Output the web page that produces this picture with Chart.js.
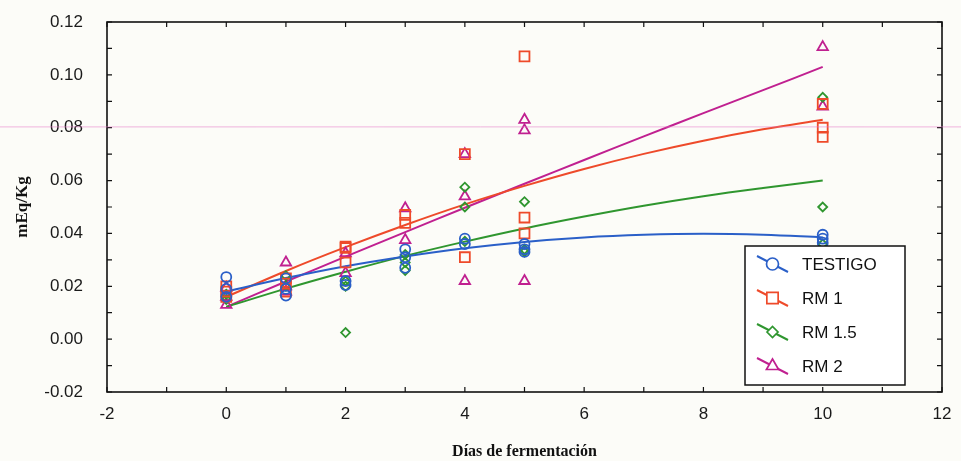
<!DOCTYPE html>
<html>
<head>
<meta charset="utf-8">
<script src="https://cdn.jsdelivr.net/npm/chart.js@4.4.1/dist/chart.umd.min.js"></script>
<style>
  html, body { margin: 0; padding: 0; background: #fcfcf8; }
</style>
</head>
<body>
<canvas id="grafico" width="961" height="461"></canvas>
<script>
// ejes
const xTicks = [-2, 0, 2, 4, 6, 8, 10, 12];
const yTicks = [-0.02, 0, 0.02, 0.04, 0.06, 0.08, 0.10, 0.12];
const series = ['TESTIGO', 'RM 1', 'RM 1.5', 'RM 2'];

// observaciones por tratamiento (dia, mEq/Kg)
const diasTestigo = [0, 0, 0, 1, 1, 1, 2, 2, 3, 3, 3, 4, 4, 5, 5, 5, 10, 10, 10];
const valTestigo  = [0.0235, 0.019, 0.016, 0.023, 0.019, 0.0165, 0.022, 0.0205, 0.034, 0.031, 0.027, 0.038, 0.036, 0.036, 0.034, 0.033, 0.0395, 0.038, 0.0365];

const diasRM1 = [0, 0, 0, 1, 1, 1, 2, 2, 2, 3, 3, 4, 4, 5, 5, 5, 10, 10, 10];
const valRM1  = [0.020, 0.018, 0.016, 0.023, 0.021, 0.018, 0.035, 0.0345, 0.029, 0.047, 0.044, 0.070, 0.031, 0.107, 0.046, 0.040, 0.089, 0.080, 0.0765];

const diasRM15 = [0, 0, 1, 1, 2, 2, 2, 3, 3, 3, 4, 4, 4, 5, 5, 5, 10, 10, 10];
const valRM15  = [0.015, 0.017, 0.024, 0.020, 0.022, 0.020, 0.0025, 0.032, 0.029, 0.026, 0.0575, 0.050, 0.037, 0.052, 0.034, 0.033, 0.0915, 0.050, 0.036];

const diasRM2 = [0, 0, 0, 1, 1, 1, 2, 2, 3, 3, 4, 4, 4, 5, 5, 5, 10, 10];
const valRM2  = [0.0195, 0.016, 0.013, 0.029, 0.020, 0.018, 0.0325, 0.025, 0.0495, 0.0375, 0.070, 0.054, 0.022, 0.083, 0.079, 0.022, 0.1105, 0.088];

// curvas de ajuste
const diasCurva    = [0, 1, 2, 3, 4, 5, 6, 7, 8, 9, 10];
const curvaTestigo = [0.0180, 0.0231, 0.0276, 0.0313, 0.0344, 0.0368, 0.0385, 0.0395, 0.0399, 0.0395, 0.0385];
const curvaRM1     = [0.0160, 0.0258, 0.0348, 0.0432, 0.0510, 0.0580, 0.0644, 0.0701, 0.0751, 0.0794, 0.0830];
const curvaRM15    = [0.0122, 0.0191, 0.0255, 0.0315, 0.0369, 0.0419, 0.0464, 0.0505, 0.0541, 0.0572, 0.0600];
const curvaRM2     = [0.0122, 0.0218, 0.0312, 0.0405, 0.0497, 0.0588, 0.0678, 0.0767, 0.0855, 0.0942, 0.1030];

const colores = ['#2a5fc8', '#ee4a2a', '#2f962f', '#c02090'];
const estilos = ['circle', 'rect', 'rectRot', 'triangle'];
const radios  = [5, 7, 4.5, 6];

const obsDias = [diasTestigo, diasRM1, diasRM15, diasRM2];
const obsVals = [valTestigo, valRM1, valRM15, valRM2];
const curvas  = [curvaTestigo, curvaRM1, curvaRM15, curvaRM2];

const aPuntos = (xs, ys) => xs.map((x, i) => ({ x: x, y: ys[i] }));

const datasets = [];
series.forEach((nombre, i) => {
  datasets.push({
    label: nombre,
    data: aPuntos(obsDias[i], obsVals[i]),
    showLine: false,
    pointStyle: estilos[i],
    pointRadius: radios[i],
    pointBorderWidth: 1.8,
    pointBorderColor: colores[i],
    pointBackgroundColor: 'rgba(0,0,0,0)'
  });
});
series.forEach((nombre, i) => {
  datasets.push({
    label: nombre + ' ajuste',
    data: aPuntos(diasCurva, curvas[i]),
    showLine: true,
    borderColor: colores[i],
    borderWidth: 2,
    tension: 0.4,
    pointRadius: 0
  });
});

// marco y marcas hacia adentro
const marco = {
  id: 'marco',
  afterDatasetsDraw(chart) {
    const { ctx, chartArea: a, scales } = chart;
    ctx.save();
    ctx.strokeStyle = '#111';
    ctx.lineWidth = 1.6;
    ctx.strokeRect(a.left, a.top, a.right - a.left, a.bottom - a.top);
    ctx.lineWidth = 1.2;
    ctx.beginPath();
    for (let v = -2; v <= 12; v += 1) {
      const px = scales.x.getPixelForValue(v);
      ctx.moveTo(px, a.bottom); ctx.lineTo(px, a.bottom - 5);
      ctx.moveTo(px, a.top); ctx.lineTo(px, a.top + 5);
    }
    for (let k = -2; k <= 12; k += 1) {
      const py = scales.y.getPixelForValue(k / 100);
      ctx.moveTo(a.left, py); ctx.lineTo(a.left + 5, py);
      ctx.moveTo(a.right, py); ctx.lineTo(a.right - 5, py);
    }
    ctx.stroke();
    ctx.restore();
  }
};

// leyenda dentro del area del grafico
const leyenda = {
  id: 'leyenda',
  afterDraw(chart) {
    const { ctx } = chart;
    const bx = 745, by = 246, bw = 160, bh = 139;
    ctx.save();
    ctx.fillStyle = '#ffffff';
    ctx.fillRect(bx, by, bw, bh);
    ctx.strokeStyle = '#111';
    ctx.lineWidth = 1.5;
    ctx.strokeRect(bx, by, bw, bh);
    series.forEach((nombre, i) => {
      const cy = by + 18 + i * 34;
      ctx.strokeStyle = colores[i];
      ctx.lineWidth = 2;
      ctx.beginPath();
      ctx.moveTo(757, cy - 8);
      ctx.lineTo(788, cy + 8);
      ctx.stroke();
      ctx.fillStyle = '#ffffff';
      ctx.lineWidth = 1.7;
      Chart.helpers.drawPoint(ctx, { pointStyle: estilos[i], radius: radios[i] + 1, rotation: 0, borderWidth: 1.7 }, 772.5, cy);
      ctx.fillStyle = '#111';
      ctx.font = '17px "Liberation Sans", Arial, sans-serif';
      ctx.textBaseline = 'middle';
      ctx.fillText(nombre, 802, cy + 1);
    });
    // linea rosa tenue que cruza la hoja
    const py = chart.scales.y.getPixelForValue(0.0805);
    ctx.strokeStyle = 'rgba(230, 120, 200, 0.55)';
    ctx.lineWidth = 1;
    ctx.beginPath();
    ctx.moveTo(0, py + 0.5);
    ctx.lineTo(chart.width, py + 0.5);
    ctx.stroke();
    ctx.restore();
  }
};

new Chart(document.getElementById('grafico'), {
  type: 'scatter',
  data: { datasets: datasets },
  plugins: [marco, leyenda],
  options: {
    responsive: false,
    animation: false,
    layout: { padding: { left: 0, right: 19, top: 22, bottom: 0 } },
    plugins: {
      legend: { display: false },
      tooltip: { enabled: false }
    },
    scales: {
      x: {
        type: 'linear',
        min: -2,
        max: 12,
        afterBuildTicks: s => { s.ticks = xTicks.map(v => ({ value: v })); },
        afterFit: s => { s.height = 69; s.paddingLeft = 0; s.paddingRight = 0; },
        grid: { display: false, drawTicks: false },
        border: { display: false },
        ticks: {
          color: '#1a1a1a',
          padding: 12,
          font: { family: '"Liberation Sans", Arial, sans-serif', size: 17 },
          callback: v => String(v)
        },
        title: {
          display: true,
          text: 'Días de fermentación',
          color: '#111',
          padding: { top: 0, bottom: 0 },
          font: { family: '"Liberation Serif", "Times New Roman", serif', size: 16, weight: 'bold' }
        }
      },
      y: {
        min: -0.02,
        max: 0.12,
        afterBuildTicks: s => { s.ticks = yTicks.map(v => ({ value: v })); },
        afterFit: s => { s.width = 107; s.paddingTop = 0; s.paddingBottom = 0; },
        grid: { display: false, drawTicks: false },
        border: { display: false },
        ticks: {
          color: '#1a1a1a',
          padding: 24,
          font: { family: '"Liberation Sans", Arial, sans-serif', size: 17 },
          callback: v => v.toFixed(2)
        },
        title: {
          display: true,
          text: 'mEq/Kg',
          color: '#111',
          padding: { top: 12, bottom: 0 },
          font: { family: '"Liberation Serif", "Times New Roman", serif', size: 17, weight: 'bold' }
        }
      }
    }
  }
});
</script>
</body>
</html>
